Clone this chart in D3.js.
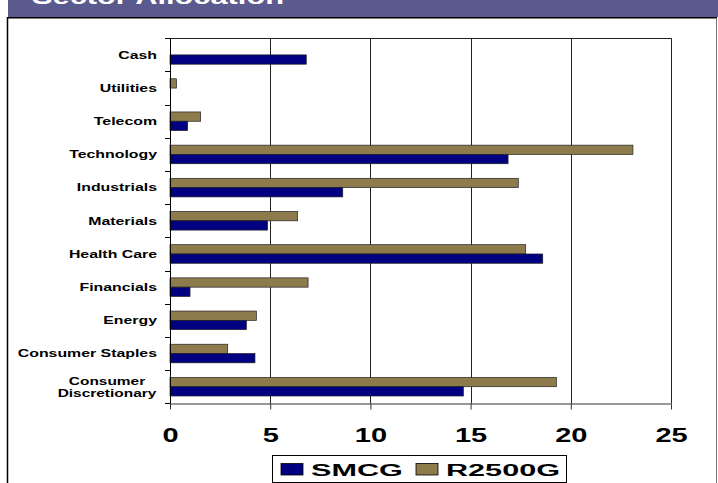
<!DOCTYPE html>
<html><head><meta charset="utf-8">
<script src="https://cdn.jsdelivr.net/npm/d3@7"></script>
<style>
html,body{margin:0;padding:0;background:#fff;}
svg{display:block;}
text{font-family:"Liberation Sans",Arial,sans-serif;font-weight:bold;}
</style></head>
<body>
<script>
const categories = ["Cash","Utilities","Telecom","Technology","Industrials","Materials","Health Care","Financials","Energy","Consumer Staples","Consumer Discretionary"];
const seriesNames = ["SMCG","R2500G"];
const smcg   = [6.8, 0, 0.88, 16.87, 8.62, 4.87, 18.6, 1.0, 3.81, 4.24, 14.64];
const r2500g = [0, 0.32, 1.53, 23.1, 17.38, 6.37, 17.75, 6.89, 4.31, 2.88, 19.28];
const xTicks = [0,5,10,15,20,25];
const title = "Sector Allocation";
const colors = {SMCG:"#000080", R2500G:"#8E7B4C"};

const W = 718, H = 483;
const svg = d3.select("body").append("svg").attr("width",W).attr("height",H);

// header band and frame
svg.append("rect").attr("x",8).attr("y",0).attr("width",W-8).attr("height",17).attr("fill","#5B5A8E");
svg.append("text").attr("transform","translate(32,4) scale(1.4,1)").attr("fill","#fff")
  .attr("font-size",22).text(title);
svg.append("line").attr("x1",7.5).attr("x2",717).attr("y1",17.8).attr("y2",17.8).attr("stroke","#000").attr("stroke-width",1.5);
svg.append("line").attr("x1",7.5).attr("x2",7.5).attr("y1",17).attr("y2",H).attr("stroke","#000").attr("stroke-width",1.5);
svg.append("line").attr("x1",716.5).attr("x2",716.5).attr("y1",18).attr("y2",H).attr("stroke","#777").attr("stroke-width",1);

const x = d3.scaleLinear().domain([0,25]).range([170,671]);
const y = d3.scaleBand().domain(categories).range([38.3,403.3]).paddingInner(0).paddingOuter(0);
const bh = 9.3;
const sub = d3.scaleBand().domain(["R2500G","SMCG"]).range([-bh, bh]);

// gridlines and plot border
const g = svg.append("g");
g.selectAll("line.grid").data(xTicks.slice(1)).enter().append("line")
  .attr("x1",d=>Math.round(x(d))+0.5).attr("x2",d=>Math.round(x(d))+0.5)
  .attr("y1",y.range()[0]).attr("y2",y.range()[1]).attr("stroke","#222").attr("stroke-width",1);
g.append("line").attr("x1",x(0)).attr("x2",x(25)+0.5).attr("y1",38.5).attr("y2",38.5).attr("stroke","#222");

// bars
const data = categories.map((c,i)=>({cat:c, SMCG:smcg[i], R2500G:r2500g[i]}));
const rows = g.selectAll("g.row").data(data).enter().append("g")
  .attr("transform",d=>`translate(0,${y(d.cat)+y.bandwidth()/2})`);
rows.selectAll("rect").data(d=>["R2500G","SMCG"].map(k=>({k, v:d[k]})).filter(e=>e.v>0)).enter().append("rect")
  .attr("x",x(0)).attr("y",e=>sub(e.k)).attr("width",e=>x(e.v)-x(0)).attr("height",sub.bandwidth())
  .attr("fill",e=>colors[e.k]).attr("stroke","#222").attr("stroke-width",0.7);

// left axis
const boundaries = categories.map(c=>y(c)).concat([y.range()[1]]);
g.append("line").attr("x1",170.5).attr("x2",170.5).attr("y1",38).attr("y2",403.5).attr("stroke","#000");
g.selectAll("line.ytick").data(boundaries).enter().append("line")
  .attr("x1",165).attr("x2",170.5).attr("y1",d=>Math.round(d)+0.5).attr("y2",d=>Math.round(d)+0.5).attr("stroke","#000");

// category labels
categories.forEach(c=>{
  const cy = y(c)+y.bandwidth()/2;
  if (c === "Consumer Discretionary") {
    const parts = ["Consumer","Discretionary"];
    parts.forEach((p,j)=>{
      svg.append("text").attr("transform",`translate(107,${cy-1.5+j*11.5}) scale(1.38,1)`)
        .attr("text-anchor","middle").attr("font-size",11.2).attr("fill","#000").text(p);
    });
  } else {
    svg.append("text").attr("transform",`translate(157,${cy+3.8}) scale(1.38,1)`)
      .attr("text-anchor","end").attr("font-size",11.5).attr("fill","#000").text(c);
  }
});

// bottom axis
const xAxis = svg.append("g").attr("transform","translate(0,403.5)")
  .call(d3.axisBottom(x).tickValues(xTicks).tickSize(6).tickSizeOuter(0));
xAxis.select(".domain").attr("stroke","#333");
xAxis.selectAll(".tick line").attr("stroke","#333");
xAxis.selectAll(".tick text").attr("y",39).attr("dy",0).attr("font-size",20)
  .attr("font-family","'Liberation Sans',Arial,sans-serif").attr("font-weight","bold")
  .attr("fill","#000").attr("transform","scale(1.45,1)");

// legend
const lg = svg.append("g");
lg.append("rect").attr("x",272.5).attr("y",455.5).attr("width",294).attr("height",27).attr("fill","#fff").attr("stroke","#000");
const legendItems = [
  {name:seriesNames[0], sx:281, tx:311},
  {name:seriesNames[1], sx:416, tx:446}
];
legendItems.forEach(it=>{
  lg.append("rect").attr("x",it.sx).attr("y",463.5).attr("width",22).attr("height",11.5)
    .attr("fill",colors[it.name]).attr("stroke","#000").attr("stroke-width",0.8);
  lg.append("text").attr("transform",`translate(${it.tx},476) scale(1.8,1)`)
    .attr("font-size",17).attr("fill","#000").text(it.name);
});
</script>
</body></html>
